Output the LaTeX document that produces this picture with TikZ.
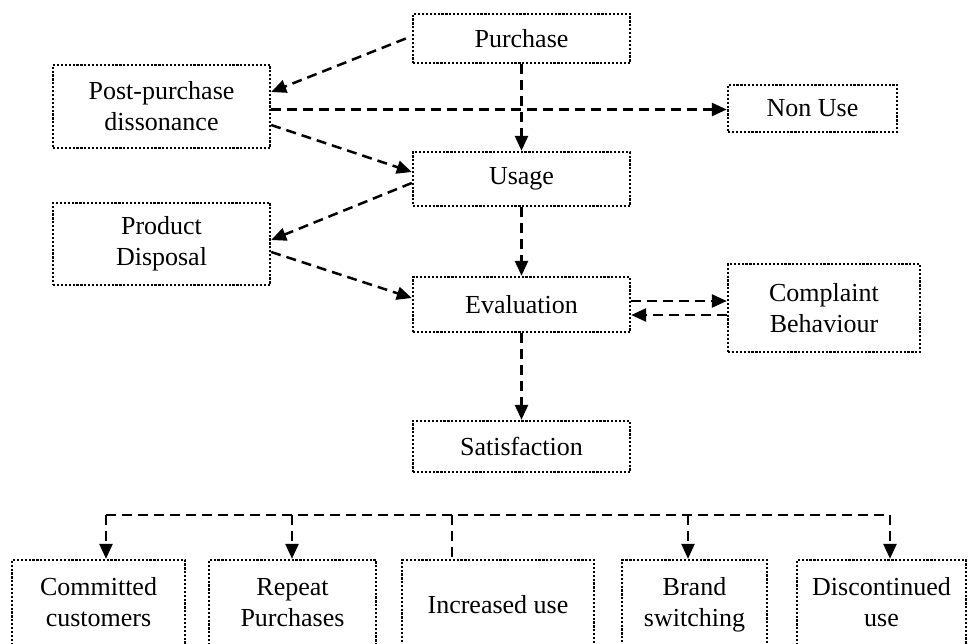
\documentclass[tikz,border=0pt]{standalone}
\usepackage{fontspec}
\setmainfont{Liberation Serif}
\usetikzlibrary{arrows.meta}
\begin{document}
\begin{tikzpicture}[x=1pt,y=-1pt,
  box/.style={draw, line width=2.4pt, dash pattern=on 2.2pt off 1.7pt,
    align=center, inner sep=0pt, font=\fontsize{26}{31}\selectfont},
  link/.style={line width=2.5pt, dash pattern=on 10pt off 6pt},
  arr/.style={link, -{Triangle[length=15pt,width=13pt]}}]
\useasboundingbox (0,0) rectangle (978,644);
\clip (0,0) rectangle (978,644);

% stage boxes
\node[box, minimum width=217pt, minimum height=49pt] (purchase) at (521.5,38.5) {Purchase};
\node[box, minimum width=217pt, minimum height=83pt] (post) at (161.5,106.5) {Post-purchase\\dissonance};
\node[box, minimum width=169pt, minimum height=47pt] (nonuse) at (812.5,108.5) {Non Use};
\node[box, minimum width=217pt, minimum height=54pt] (usage) at (521.5,179) {Usage};
\node[box, minimum width=217pt, minimum height=82pt] (disposal) at (161.5,244) {Product\\Disposal};
\node[box, minimum width=217pt, minimum height=55pt] (evaluation) at (521.5,304.5) {Evaluation};
\node[box, minimum width=192pt, minimum height=88pt] (complaint) at (824,308) {Complaint\\Behaviour};
\node[box, minimum width=217pt, minimum height=51pt] (satisfaction) at (521.5,446.5) {Satisfaction};

% outcome boxes
\node[box, minimum width=173pt, minimum height=90pt] (committed) at (98.5,605) {Committed\\customers\vphantom{g}};
\node[box, minimum width=167pt, minimum height=90pt] (repeat) at (292.5,605) {Repeat\\Purchases\vphantom{g}};
\node[box, minimum width=192pt, minimum height=90pt] (increased) at (498,605) {Increased use};
\node[box, minimum width=145pt, minimum height=90pt] (brand) at (694.5,605) {Brand\\switching};
\node[box, minimum width=169pt, minimum height=90pt] (discont) at (881.5,605) {Discontinued\\use\vphantom{g}};

% main flow
\draw[arr] (purchase.south) -- (usage.north);
\draw[arr] (usage.south) -- (evaluation.north);
\draw[arr] (evaluation.south) -- (satisfaction.north);

% side branches
\draw[arr] ([xshift=-6pt]purchase.west) -- ([yshift=14.5pt]post.east);
\draw[arr] ([yshift=-3pt]post.east) -- ([yshift=-3pt]post.east -| nonuse.west);
\draw[arr] ([yshift=-18.5pt]post.east) -- ([yshift=7pt]usage.west);
\draw[arr] ([yshift=-4pt]usage.west) -- ([yshift=4pt]disposal.east);
\draw[arr] ([yshift=-8pt]disposal.east) -- ([yshift=6.5pt]evaluation.west);
\draw[arr] ([yshift=3.5pt]evaluation.east) -- ([yshift=3.5pt]evaluation.east -| complaint.west);
\draw[arr] ([yshift=-10.5pt]evaluation.east -| complaint.west) -- ([yshift=-10.5pt]evaluation.east);

% distribution line to the outcomes
\coordinate (b1) at (106,515);
\coordinate (b2) at (292,515);
\coordinate (b3) at (452,515);
\coordinate (b4) at (688,515);
\coordinate (b5) at (890,515);
\draw[link] (b1) -- (b5);
\draw[arr] (b1) -- (b1 |- committed.north);
\draw[arr] (b2) -- (b2 |- repeat.north);
\draw[link] (b3) -- (b3 |- increased.north);
\draw[arr] (b4) -- (b4 |- brand.north);
\draw[arr] (b5) -- (b5 |- discont.north);
\end{tikzpicture}
\end{document}
